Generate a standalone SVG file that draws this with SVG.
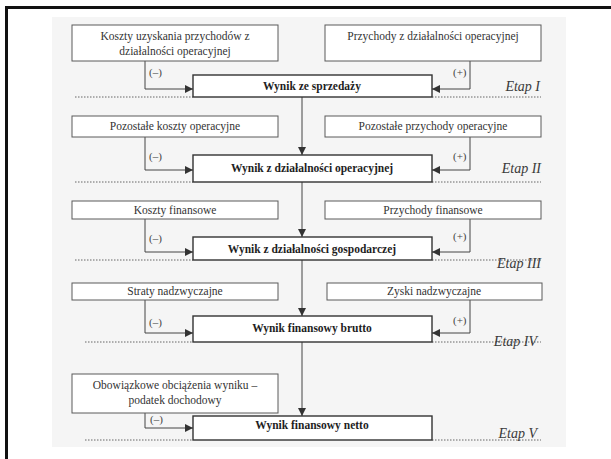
<svg xmlns="http://www.w3.org/2000/svg" width="611" height="459" viewBox="0 0 611 459">
  <style>
    .src { fill: #ffffff; stroke: #5a5a5a; stroke-width: 1; }
    .res { fill: #ffffff; stroke: #333333; stroke-width: 1.4; }
    .lbl { font-family: "Liberation Serif", "Times New Roman", serif; font-size: 11.5px; fill: #333333; text-anchor: middle; }
    .bold { font-family: "Liberation Serif", "Times New Roman", serif; font-size: 11.5px; font-weight: bold; fill: #1e1e1e; text-anchor: middle; }
    .sign { font-family: "Liberation Serif", "Times New Roman", serif; font-size: 11px; fill: #444444; }
    .etap { font-family: "Liberation Serif", "Times New Roman", serif; font-size: 14px; font-style: italic; fill: #3a3a3a; text-anchor: end; }
    .wire { fill: none; stroke: #444444; stroke-width: 1; }
    .dots { stroke: #666666; stroke-width: 1; stroke-dasharray: 1.5 1.5; }
  </style>
  <defs>
    <marker id="tip" viewBox="0 0 10 10" refX="10" refY="5" markerWidth="8" markerHeight="8" markerUnits="userSpaceOnUse" orient="auto">
      <path d="M0,0 L10,5 L0,10 z" fill="#333333"/>
    </marker>
  </defs>

  <!-- page -->
  <rect x="0" y="0" width="611" height="459" fill="#ffffff"/>
  <rect x="52" y="17" width="514" height="430" fill="#f5f5f5"/>
  <rect x="6.5" y="7.5" width="620" height="470" fill="none" stroke="#111111" stroke-width="3"/>

  <!-- stage separators -->
  <g id="separators">
    <line class="dots" x1="75" y1="97" x2="193" y2="97"/>
    <line class="dots" x1="432" y1="97" x2="541" y2="97"/>
    <line class="dots" x1="75" y1="182" x2="193" y2="182"/>
    <line class="dots" x1="432" y1="182" x2="541" y2="182"/>
    <line class="dots" x1="75" y1="260" x2="193" y2="260"/>
    <line class="dots" x1="432" y1="260" x2="541" y2="260"/>
    <line class="dots" x1="85" y1="342" x2="193" y2="342"/>
    <line class="dots" x1="432" y1="342" x2="541" y2="342"/>
    <line class="dots" x1="85" y1="440" x2="193" y2="440"/>
    <line class="dots" x1="432" y1="440" x2="541" y2="440"/>
  </g>

  <!-- connectors -->
  <g id="connectors">
    <polyline class="wire" points="145,61 145,89 193,89" marker-end="url(#tip)"/>
    <polyline class="wire" points="470,61 470,89 432,89" marker-end="url(#tip)"/>
    <line class="wire" x1="302" y1="97" x2="302" y2="155" marker-end="url(#tip)"/>

    <polyline class="wire" points="145,137 145,170 193,170" marker-end="url(#tip)"/>
    <polyline class="wire" points="470,137 470,170 432,170" marker-end="url(#tip)"/>
    <line class="wire" x1="302" y1="182" x2="302" y2="237" marker-end="url(#tip)"/>

    <polyline class="wire" points="145,219 145,252 193,252" marker-end="url(#tip)"/>
    <polyline class="wire" points="470,219 470,252 432,252" marker-end="url(#tip)"/>
    <line class="wire" x1="302" y1="260" x2="302" y2="316" marker-end="url(#tip)"/>

    <polyline class="wire" points="145,300 145,333 193,333" marker-end="url(#tip)"/>
    <polyline class="wire" points="470,300 470,333 432,333" marker-end="url(#tip)"/>
    <line class="wire" x1="302" y1="342" x2="302" y2="416" marker-end="url(#tip)"/>

    <polyline class="wire" points="145,413 145,428 193,428" marker-end="url(#tip)"/>

    <text class="sign" x="149" y="76">(–)</text>
    <text class="sign" x="453" y="76">(+)</text>
    <text class="sign" x="149" y="160">(–)</text>
    <text class="sign" x="453" y="160">(+)</text>
    <text class="sign" x="149" y="242">(–)</text>
    <text class="sign" x="453" y="240">(+)</text>
    <text class="sign" x="149" y="326">(–)</text>
    <text class="sign" x="453" y="324">(+)</text>
    <text class="sign" x="150" y="423">(–)</text>
  </g>

  <!-- Etap I -->
  <g id="koszty-uzyskania">
    <rect class="src" x="72" y="25" width="206" height="36"/>
    <text class="lbl" x="175" y="40">Koszty uzyskania przychodów z</text>
    <text class="lbl" x="175" y="55">działalności operacyjnej</text>
  </g>
  <g id="przychody-operacyjne">
    <rect class="src" x="325" y="25" width="216" height="36"/>
    <text class="lbl" x="433" y="40">Przychody z działalności operacyjnej</text>
  </g>
  <g id="wynik-sprzedazy">
    <rect class="res" x="193" y="75" width="239" height="22"/>
    <text class="bold" x="312" y="90">Wynik ze sprzedaży</text>
  </g>
  <text class="etap" x="540" y="91">Etap I</text>

  <!-- Etap II -->
  <g id="pozostale-koszty">
    <rect class="src" x="72" y="116" width="206" height="21"/>
    <text class="lbl" x="175" y="130">Pozostałe koszty operacyjne</text>
  </g>
  <g id="pozostale-przychody">
    <rect class="src" x="325" y="116" width="216" height="21"/>
    <text class="lbl" x="433" y="130">Pozostałe przychody operacyjne</text>
  </g>
  <g id="wynik-operacyjny">
    <rect class="res" x="193" y="155" width="239" height="27"/>
    <text class="bold" x="312" y="172">Wynik z działalności operacyjnej</text>
  </g>
  <text class="etap" x="541" y="173">Etap II</text>

  <!-- Etap III -->
  <g id="koszty-finansowe">
    <rect class="src" x="72" y="201" width="206" height="18"/>
    <text class="lbl" x="175" y="214">Koszty finansowe</text>
  </g>
  <g id="przychody-finansowe">
    <rect class="src" x="325" y="201" width="216" height="18"/>
    <text class="lbl" x="433" y="214">Przychody finansowe</text>
  </g>
  <g id="wynik-gospodarczy">
    <rect class="res" x="193" y="237" width="239" height="23"/>
    <text class="bold" x="312" y="253">Wynik z działalności gospodarczej</text>
  </g>
  <text class="etap" x="541" y="268">Etap III</text>

  <!-- Etap IV -->
  <g id="straty-nadzwyczajne">
    <rect class="src" x="72" y="283" width="206" height="17"/>
    <text class="lbl" x="175" y="295">Straty nadzwyczajne</text>
  </g>
  <g id="zyski-nadzwyczajne">
    <rect class="src" x="327" y="283" width="215" height="17"/>
    <text class="lbl" x="434" y="295">Zyski nadzwyczajne</text>
  </g>
  <g id="wynik-brutto">
    <rect class="res" x="193" y="316" width="239" height="26"/>
    <text class="bold" x="312" y="332">Wynik finansowy brutto</text>
  </g>
  <text class="etap" x="537" y="346">Etap IV</text>

  <!-- Etap V -->
  <g id="obciazenia">
    <rect class="src" x="72" y="374" width="206" height="39"/>
    <text class="lbl" x="175" y="389">Obowiązkowe obciążenia wyniku –</text>
    <text class="lbl" x="175" y="404">podatek dochodowy</text>
  </g>
  <g id="wynik-netto">
    <rect class="res" x="193" y="416" width="239" height="24"/>
    <text class="bold" x="312" y="429">Wynik finansowy netto</text>
  </g>
  <text class="etap" x="537" y="438">Etap V</text>
</svg>
